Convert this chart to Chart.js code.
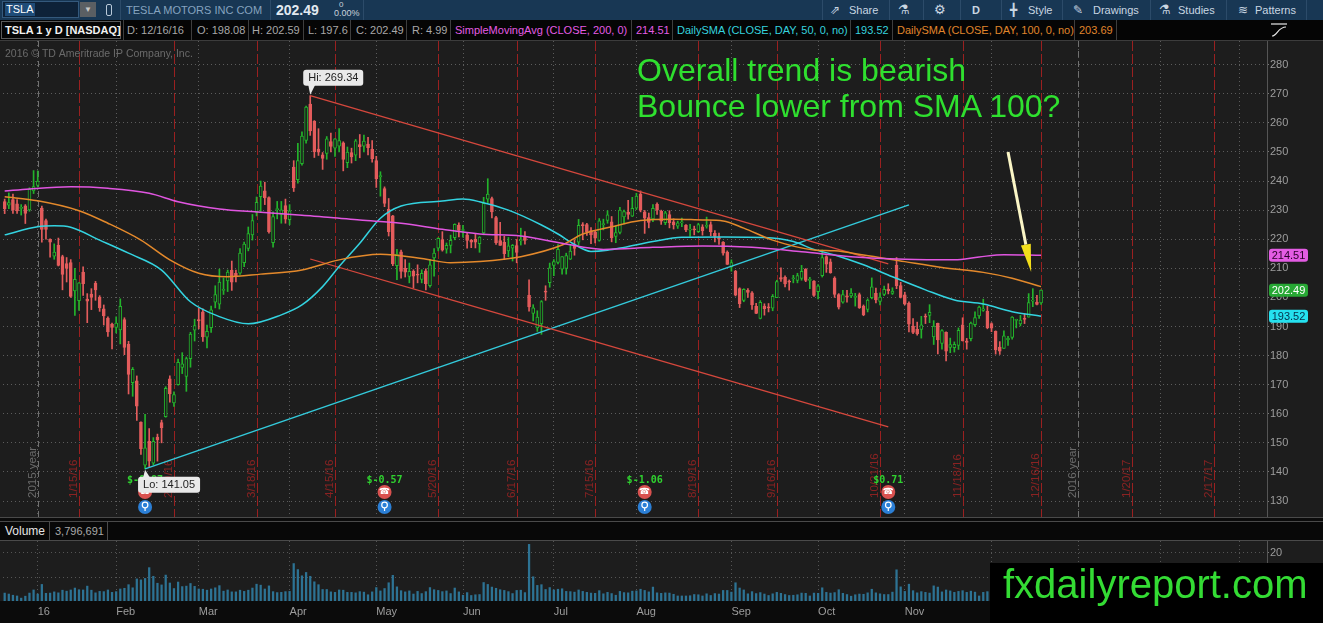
<!DOCTYPE html>
<html>
<head>
<meta charset="utf-8">
<title>TSLA 1 y D</title>
<script src="https://cdn.jsdelivr.net/npm/chart.js@4.4.1/dist/chart.umd.min.js"></script>
<style>
  html, body { margin: 0; padding: 0; }
  body { width: 1323px; height: 623px; overflow: hidden; position: relative; background: #0a0a0a;
         font-family: "Liberation Sans", Arial, sans-serif; }
  .abs { position: absolute; white-space: nowrap; }
  #bar1 { left: 0; top: 0; width: 1323px; height: 20px; background: #183754; }
  #bar2 { left: 0; top: 20px; width: 1323px; height: 20px; background: #050505; border-bottom: 1px solid #3c3c3c; }
  .sep1 { position: absolute; top: 0; width: 1px; height: 20px; background: #2c4b69; }
  .sep2 { position: absolute; top: 0; width: 1px; height: 20px; background: #3e3e3e; }
  .t1 { position: absolute; top: 0; line-height: 20px; font-size: 11px; color: #c9d6e2; white-space: nowrap; }
  .t2 { position: absolute; top: 0; line-height: 20px; font-size: 11px; color: #a8a8a8; white-space: nowrap; }
  canvas { position: absolute; left: 0; }
  #price { top: 41px; background: #1d1d1d; }
  #vol { top: 541px; background: #0b0b0b; }
  .note { position: absolute; left: 637px; font-size: 32px; line-height: 32px; color: #2fe02f; white-space: nowrap; }
</style>
</head>
<body>

<div id="bar1" class="abs">
  <div class="abs" style="left:2px;top:1px;width:77px;height:17px;background:#0e2238;border:1px solid #34597c;box-sizing:border-box;"></div>
  <div class="abs" style="left:5px;top:3px;height:13px;padding:0 1px;background:#1f4c78;color:#fff;font-size:11px;line-height:13px;">TSLA</div>
  <div class="abs" style="left:80px;top:2px;width:16px;height:15px;background:#5b5f63;color:#c8c8c8;font-size:8px;line-height:15px;text-align:center;">&#9660;</div>
  <div class="abs" style="left:106px;top:4px;width:4px;height:10px;border:1px solid #b9c9d8;border-radius:2px;"></div>
  <div class="sep1" style="left:120px"></div>
  <div class="t1" style="left:126px;color:#86a3bf;">TESLA MOTORS INC COM</div>
  <div class="sep1" style="left:270px"></div>
  <div class="t1" style="left:276px;font-size:14px;font-weight:bold;color:#e2e9f0;">202.49</div>
  <div class="abs" style="left:339px;top:1px;font-size:8px;line-height:8px;color:#c9d2db;">0</div>
  <div class="abs" style="left:334px;top:9px;font-size:9px;line-height:9px;color:#c9d2db;">0.00%</div>
  <div class="sep1" style="left:363px"></div>

  <div class="sep1" style="left:822px"></div>
  <div class="t1" style="left:830px;font-size:12px;">&#8663;</div>
  <div class="t1" style="left:849px;">Share</div>
  <div class="sep1" style="left:889px"></div>
  <div class="t1" style="left:898px;font-size:13px;">&#9879;</div>
  <div class="sep1" style="left:923px"></div>
  <div class="t1" style="left:934px;font-size:13px;">&#9881;</div>
  <div class="sep1" style="left:960px"></div>
  <div class="t1" style="left:972px;font-weight:bold;">D</div>
  <div class="sep1" style="left:1001px"></div>
  <div class="t1" style="left:1010px;font-size:12px;">&#9547;</div>
  <div class="t1" style="left:1028px;">Style</div>
  <div class="sep1" style="left:1062px"></div>
  <div class="t1" style="left:1073px;font-size:12px;">&#9998;</div>
  <div class="t1" style="left:1093px;">Drawings</div>
  <div class="sep1" style="left:1150px"></div>
  <div class="t1" style="left:1159px;font-size:13px;">&#9879;</div>
  <div class="t1" style="left:1178px;">Studies</div>
  <div class="sep1" style="left:1226px"></div>
  <div class="t1" style="left:1238px;font-size:12px;">&#8779;</div>
  <div class="t1" style="left:1255px;">Patterns</div>
  <div class="sep1" style="left:1306px"></div>
</div>

<div id="bar2" class="abs">
  <div class="abs" style="left:1px;top:1px;width:120px;height:18px;border:1px solid #5a5a5a;box-sizing:border-box;"></div>
  <div class="t2" style="left:5px;color:#f2f2f2;font-weight:bold;">TSLA 1 y D [NASDAQ]</div>
  <div class="sep2" style="left:123px"></div>
  <div class="t2" style="left:127px;">D: 12/16/16</div>
  <div class="sep2" style="left:191px"></div>
  <div class="t2" style="left:197px;">O: 198.08</div>
  <div class="sep2" style="left:248px"></div>
  <div class="t2" style="left:252px;">H: 202.59</div>
  <div class="sep2" style="left:303px"></div>
  <div class="t2" style="left:308px;">L: 197.6</div>
  <div class="sep2" style="left:350px"></div>
  <div class="t2" style="left:356px;">C: 202.49</div>
  <div class="sep2" style="left:406px"></div>
  <div class="t2" style="left:412px;">R: 4.99</div>
  <div class="sep2" style="left:450px"></div>
  <div class="t2" style="left:455px;color:#e45ce4;">SimpleMovingAvg (CLOSE, 200, 0)</div>
  <div class="sep2" style="left:631px"></div>
  <div class="t2" style="left:636px;color:#e45ce4;">214.51</div>
  <div class="sep2" style="left:672px"></div>
  <div class="t2" style="left:677px;color:#35d3df;">DailySMA (CLOSE, DAY, 50, 0, no)</div>
  <div class="sep2" style="left:850px"></div>
  <div class="t2" style="left:855px;color:#35d3df;">193.52</div>
  <div class="sep2" style="left:892px"></div>
  <div class="t2" style="left:897px;color:#e0862c;">DailySMA (CLOSE, DAY, 100, 0, no)</div>
  <div class="sep2" style="left:1074px"></div>
  <div class="t2" style="left:1079px;color:#e0862c;">203.69</div>
  <div class="sep2" style="left:1116px"></div>
  <svg class="abs" style="left:1269px;top:2px;" width="20" height="16" viewBox="0 0 20 16">
    <path d="M2 2 H18" stroke="#e8e8e8" stroke-width="1.2" fill="none"/>
    <path d="M3 14 C8 14, 9 5, 17 5" stroke="#e8e8e8" stroke-width="1.2" fill="none"/>
  </svg>
</div>

<canvas id="price" width="1323" height="476"></canvas>

<div class="abs" style="left:0;top:517px;width:1323px;height:4px;background:#0b0b0b;border-top:1px solid #4a4a4a;box-sizing:border-box;"></div>
<div class="abs" style="left:0;top:521px;width:1323px;height:20px;background:#080808;border-top:1px solid #4a4a4a;border-bottom:1px solid #4a4a4a;box-sizing:border-box;">
  <div class="abs" style="left:1px;top:0;width:49px;height:18px;border-right:1px solid #4a4a4a;color:#e6e6e6;font-size:12px;line-height:18px;padding-left:4px;box-sizing:border-box;">Volume</div>
  <div class="abs" style="left:55px;top:0;color:#a8a8a8;font-size:11px;line-height:18px;">3,796,691</div>
  <div class="abs" style="left:107px;top:0;width:1px;height:18px;background:#4a4a4a;"></div>
</div>

<canvas id="vol" width="1323" height="82"></canvas>

<div class="note" style="top:54px;">Overall trend is bearish</div>
<div class="note" style="top:90px;">Bounce lower from SMA 100?</div>

<div class="abs" style="left:990px;top:563px;width:333px;height:60px;background:#000;"></div>
<div class="abs" style="left:1003px;top:564px;font-size:40px;line-height:40px;color:#34dc34;">fxdailyreport.com</div>

<script>
// trading days from 12/18/15 to 12/16/16, index 0 = 12/18/15
const opens = [
  232.9, 231.7, 233.6, 232.2, 230.6, 231.5, 230.1, 236.6, 238.5,
  230.7, 226.4, 220.0, 214.2, 217.9, 214.0, 211.6, 212.0, 202.2, 198.9, 208.7, 199.4, 201.1, 204.8, 200.1, 196.1, 192.9, 190.8, 189.7,
  188.8, 192.4, 183.9, 170.7, 171.3, 157.1, 142.3, 150.5, 143.0, 152.0, 157.0, 159.0, 172.0, 163.7, 170.0, 175.9, 172.8, 178.9, 188.7, 192.4,
  195.0, 186.3, 189.6, 198.4, 197.7, 202.4, 205.7, 209.3, 208.3, 208.3, 211.9, 216.8, 221.5, 229.2, 234.6, 236.6, 234.3, 218.8, 230.2, 228.5, 231.6, 226.7,
  244.8, 240.5, 246.0, 254.0, 266.5, 260.5, 251.0, 249.0, 249.5, 253.6, 251.3, 252.0, 253.1, 246.3, 249.8, 248.9, 252.5, 252.0, 252.7, 250.9, 247.0,
  241.5, 237.4, 230.3, 228.0, 210.9, 215.7, 210.0, 207.2, 209.0, 207.8, 206.2, 209.1, 204.0, 213.6, 216.9, 219.9, 216.6, 217.9, 220.5, 224.9, 223.0,
  221.5, 219.6, 220.0, 218.5, 222.2, 233.8, 234.0, 227.4, 219.5, 218.9, 216.0, 216.9, 217.8, 219.5, 220.7, 200.7, 194.5, 189.5, 190.9, 201.9, 205.1, 211.0,
  212.0, 209.7, 210.0, 213.1, 217.8, 219.0, 225.0, 225.0, 223.0, 222.5, 219.6, 225.0, 226.5, 226.0, 221.0, 222.3, 227.7, 229.3, 227.9, 230.7,
  235.5, 229.4, 227.4, 227.0, 232.0, 229.7, 225.7, 228.5, 226.0, 224.5, 225.6, 224.9, 223.1, 223.5, 222.6, 224.3, 224.4, 225.0, 222.0, 220.6, 219.0, 215.6, 210.5,
  209.0, 203.0, 199.0, 202.4, 201.6, 196.9, 192.8, 197.0, 196.5, 196.3, 199.9, 206.8, 206.9, 205.6, 206.4, 205.8, 206.5, 209.7, 205.8, 205.6, 202.0,
  207.5, 214.0, 212.2, 206.6, 201.0, 198.4, 200.5, 200.5, 200.0, 201.0, 197.0, 195.9, 199.9, 201.4, 198.6, 201.0, 202.9, 201.4, 211.0, 204.1, 200.9,
  198.0, 190.1, 189.0, 189.0, 193.6, 193.8, 186.4, 191.1, 184.2, 188.0, 182.8, 182.7, 183.5, 190.6, 185.0, 185.8, 190.6, 193.6, 195.5, 195.2, 191.0,
  188.3, 182.9, 182.5, 185.5, 186.2, 192.1, 190.9, 192.8, 193.2, 198.7, 198.4, 198.08
];
const highs = [
  233.8, 235.9, 235.5, 233.6, 231.9, 231.9, 237.7, 243.6, 243.5,
  231.4, 226.9, 220.1, 218.4, 220.4, 214.5, 213.7, 213.0, 210.0, 205.1, 210.5, 201.3, 203.0, 205.5, 200.6, 197.4, 193.3, 191.2, 193.3,
  199.5, 193.0, 184.9, 175.9, 173.0, 157.2, 159.8, 154.9, 151.8, 153.0, 157.8, 169.3, 173.0, 167.5, 178.8, 181.0, 179.5, 188.0, 192.5, 196.3,
  196.1, 190.5, 197.0, 204.0, 209.7, 206.7, 209.4, 212.5, 209.4, 216.8, 219.0, 224.2, 228.5, 234.5, 240.0, 239.6, 234.6, 229.4, 233.0, 233.0, 233.8, 231.9,
  247.0, 253.0, 256.9, 265.8, 269.34, 260.8, 258.0, 249.8, 255.3, 256.5, 254.6, 258.0, 253.5, 251.7, 251.3, 254.3, 256.0, 255.8, 255.0, 253.9, 248.5,
  243.2, 238.0, 234.0, 228.2, 216.5, 216.3, 213.0, 211.8, 209.5, 211.2, 209.5, 209.8, 213.0, 216.8, 220.5, 222.6, 218.7, 221.4, 225.3, 225.6, 224.8,
  222.4, 219.9, 221.9, 220.9, 234.4, 240.8, 234.5, 227.9, 225.8, 221.0, 220.6, 218.2, 219.9, 223.8, 222.6, 206.0, 197.5, 195.4, 198.9, 204.0, 211.8, 213.0,
  218.2, 214.0, 215.2, 218.1, 219.8, 226.8, 225.7, 225.5, 224.0, 222.9, 227.1, 226.9, 229.8, 227.8, 224.5, 231.0, 230.0, 233.4, 234.4, 235.8,
  236.6, 229.9, 229.0, 231.9, 232.5, 230.0, 229.6, 229.8, 227.0, 226.2, 227.3, 225.0, 225.1, 224.5, 225.5, 225.0, 227.6, 226.0, 223.0, 222.1, 219.2, 216.0, 212.9,
  209.3, 203.3, 203.0, 203.0, 202.0, 198.0, 198.9, 197.8, 197.9, 201.0, 205.9, 210.2, 207.4, 206.0, 207.6, 208.3, 211.0, 209.9, 206.9, 205.8, 204.4,
  216.3, 214.3, 213.2, 207.1, 201.3, 202.4, 202.4, 203.0, 201.4, 201.5, 197.4, 199.5, 206.7, 203.2, 201.6, 203.9, 204.7, 203.3, 213.7, 205.2, 201.8,
  198.5, 192.7, 191.5, 193.5, 194.3, 197.5, 192.0, 191.2, 188.9, 188.2, 186.0, 184.7, 189.5, 193.0, 185.9, 191.5, 195.0, 197.0, 199.4, 197.0, 191.3,
  188.5, 184.8, 188.5, 186.6, 193.4, 192.5, 193.8, 194.4, 201.3, 203.0, 200.7, 202.59
];
const lows = [
  228.8, 230.5, 228.9, 228.9, 228.3, 225.4, 229.6, 235.7, 238.0,
  219.0, 220.0, 213.8, 213.1, 210.8, 202.6, 205.3, 200.0, 193.8, 195.5, 200.7, 191.3, 195.8, 199.0, 195.2, 190.5, 186.6, 182.3, 187.8,
  184.0, 180.3, 166.8, 166.0, 157.7, 146.0, 141.05, 141.7, 142.5, 143.7, 150.0, 158.8, 164.0, 162.5, 169.8, 173.8, 167.7, 176.0, 185.0, 189.2,
  184.9, 182.6, 188.0, 196.4, 196.0, 201.0, 202.0, 202.4, 205.3, 207.9, 210.6, 216.0, 219.7, 228.0, 229.5, 231.9, 222.1, 217.3, 227.0, 225.5, 225.5, 225.0,
  236.4, 239.3, 245.5, 253.0, 255.7, 248.1, 248.8, 244.0, 247.5, 250.0, 248.5, 250.0, 243.5, 244.6, 246.2, 247.0, 248.0, 250.0, 249.0, 246.5, 237.8,
  234.8, 231.2, 221.1, 210.9, 206.1, 206.6, 207.0, 205.0, 203.2, 205.0, 205.0, 202.6, 203.5, 207.3, 216.0, 215.9, 215.2, 215.3, 219.8, 220.8, 220.7,
  216.9, 217.1, 217.0, 215.5, 221.5, 232.6, 227.3, 218.2, 217.9, 213.0, 214.0, 212.5, 211.9, 218.0, 218.3, 195.3, 191.9, 188.3, 187.3, 199.0, 203.5, 207.5,
  211.5, 208.0, 208.0, 213.0, 214.5, 218.0, 219.8, 221.3, 218.5, 218.7, 219.3, 223.2, 225.5, 219.1, 218.8, 221.8, 225.3, 226.9, 227.8, 230.2,
  229.4, 222.0, 223.9, 226.0, 228.5, 225.1, 225.0, 223.9, 223.5, 223.7, 224.3, 222.6, 221.0, 221.5, 222.3, 221.4, 223.8, 221.2, 219.1, 218.2, 214.5, 211.3, 209.0,
  200.5, 196.5, 198.5, 200.0, 195.9, 194.4, 192.6, 193.9, 195.0, 195.4, 199.9, 205.5, 203.6, 202.5, 205.0, 205.0, 205.9, 205.4, 203.0, 200.3, 199.5,
  207.0, 208.6, 208.3, 200.0, 196.0, 198.0, 198.4, 199.9, 197.0, 196.2, 193.7, 195.0, 199.5, 198.1, 197.4, 200.6, 201.2, 201.0, 203.0, 199.8, 197.4,
  188.1, 187.5, 187.0, 186.0, 191.0, 191.3, 183.8, 180.6, 182.2, 178.2, 181.0, 181.2, 182.1, 185.0, 182.2, 185.0, 190.0, 192.8, 195.2, 189.2, 188.2,
  180.5, 180.4, 182.5, 183.5, 185.6, 189.5, 190.2, 191.0, 193.2, 196.8, 197.4, 197.6
];
const closes = [
  230.5, 232.6, 230.0, 229.7, 230.6, 228.9, 237.2, 238.1, 240.0,
  223.4, 223.4, 219.0, 215.6, 211.0, 207.9, 210.0, 200.3, 206.2, 205.0, 204.7, 198.7, 200.0, 202.6, 196.4, 193.6, 188.1, 189.7, 191.2,
  196.9, 182.8, 173.5, 175.3, 162.6, 148.0, 148.3, 143.7, 150.5, 151.0, 155.2, 168.7, 166.8, 166.6, 177.7, 177.2, 179.0, 187.4, 190.3, 191.9,
  186.4, 188.3, 195.7, 201.0, 205.3, 202.6, 208.7, 205.2, 207.5, 215.2, 218.3, 221.9, 226.4, 232.7, 238.3, 234.2, 222.6, 227.8, 230.3, 230.1, 226.9, 229.8,
  237.6, 247.0, 255.5, 265.4, 257.2, 250.1, 249.9, 247.8, 254.5, 251.9, 254.5, 253.9, 247.4, 250.0, 248.3, 253.8, 251.8, 253.7, 251.5, 247.7, 240.8,
  241.8, 232.3, 222.6, 211.5, 214.9, 208.9, 208.7, 209.0, 207.3, 207.6, 208.3, 204.7, 211.2, 215.2, 220.3, 216.2, 217.9, 219.6, 225.1, 223.0, 223.2,
  219.6, 219.0, 219.0, 220.7, 232.3, 235.5, 229.4, 218.8, 217.9, 215.0, 217.7, 217.9, 215.5, 219.7, 219.6, 196.7, 196.4, 193.2, 198.6, 201.8, 210.2, 212.3,
  216.5, 214.0, 214.4, 215.9, 216.8, 224.8, 224.7, 222.5, 221.5, 220.4, 226.3, 225.3, 228.4, 220.5, 222.3, 230.0, 229.5, 228.5, 230.6, 234.8,
  230.0, 227.2, 225.8, 230.6, 230.0, 226.2, 229.1, 225.7, 224.9, 225.6, 225.6, 223.2, 223.5, 223.2, 225.0, 222.9, 224.8, 222.6, 221.0, 220.0, 215.2, 211.3, 212.0,
  200.8, 197.8, 202.8, 201.7, 197.4, 194.5, 198.3, 196.1, 196.4, 200.4, 205.4, 206.3, 204.6, 205.2, 206.4, 207.5, 209.0, 205.8, 206.3, 200.7, 204.0,
  213.7, 211.4, 208.5, 201.0, 196.6, 201.0, 200.1, 201.5, 200.2, 196.5, 194.0, 199.1, 203.6, 199.1, 200.1, 202.8, 202.3, 202.2, 204.0, 200.0, 197.7,
  190.8, 188.0, 187.4, 190.6, 193.2, 194.9, 190.1, 185.4, 188.6, 181.5, 183.8, 183.9, 188.7, 185.0, 184.5, 191.2, 193.1, 196.7, 196.1, 189.6, 189.4,
  181.9, 181.5, 186.8, 185.9, 193.2, 192.3, 192.2, 192.4, 198.2, 198.7, 197.6, 202.49
];
// volume, millions of shares
const volumes = [
  3.3, 2.9, 2.4, 2.1, 1.2, 2.0, 3.3, 4.6, 2.9,
  6.9, 3.2, 3.3, 3.8, 3.4, 4.5, 4.1, 4.6, 5.4, 4.7, 4.6, 6.2, 4.5, 3.4, 4.0, 3.9, 4.6, 3.6, 3.9,
  5.0, 5.3, 6.8, 5.5, 9.2, 8.8, 9.4, 13.9, 10.3, 7.4, 6.7, 10.8, 7.5, 5.2, 7.9, 6.0, 6.2, 7.3, 6.1, 5.0,
  4.9, 4.5, 5.0, 5.5, 6.4, 4.1, 4.6, 3.8, 3.8, 4.5, 4.0, 4.5, 5.4, 7.0, 6.6, 5.0, 6.3, 3.9, 3.5, 3.6, 3.9, 4.0,
  15.6, 13.1, 10.5, 11.9, 10.3, 8.0, 6.8, 4.8, 4.8, 3.8, 3.6, 4.6, 4.5, 3.6, 3.6, 3.4, 3.9, 3.7, 2.6, 3.8, 5.6,
  4.2, 5.2, 7.6, 10.7, 5.9, 4.3, 3.8, 4.2, 2.9, 4.0, 3.1, 3.9, 5.6, 4.7, 4.4, 3.9, 4.2, 3.1, 5.4, 3.8, 2.4,
  3.5, 2.3, 2.6, 2.7, 7.7, 6.9, 5.8, 5.3, 4.7, 4.4, 3.9, 3.1, 4.4, 4.5, 3.5, 23.6, 10.1, 6.5, 6.8, 4.8, 5.6, 4.6,
  4.9, 5.1, 4.0, 3.9, 3.7, 4.6, 4.0, 3.6, 3.3, 3.2, 4.3, 3.0, 3.6, 3.1, 2.4, 4.0, 3.5, 3.4, 4.1, 4.2,
  4.9, 4.4, 3.8, 5.8, 3.4, 3.2, 3.4, 3.3, 2.8, 2.1, 2.1, 2.1, 2.2, 2.7, 2.6, 2.1, 3.0, 2.3, 3.1, 2.9, 4.4, 4.4, 3.7,
  7.6, 5.4, 4.6, 3.0, 3.9, 3.1, 3.5, 2.9, 2.3, 3.0, 3.6, 3.2, 2.7, 2.3, 2.4, 2.6, 3.3, 3.2, 2.1, 3.3, 3.2,
  5.5, 3.6, 3.3, 3.5, 4.7, 3.2, 2.7, 2.0, 2.6, 2.9, 2.8, 3.4, 4.9, 3.4, 3.0, 2.7, 2.7, 3.7, 13.0, 5.9, 4.0,
  7.0, 4.3, 3.4, 3.9, 3.6, 3.3, 6.3, 5.8, 3.8, 4.6, 4.2, 3.6, 4.0, 4.3, 3.6, 4.1, 3.7, 2.1, 3.6, 3.9, 3.4,
  4.6, 3.6, 3.7, 2.9, 3.8, 2.8, 2.4, 2.8, 4.3, 4.6, 3.3, 3.8
];

// moving averages: [day index, value]
const sma200Pts = [[0,236.6],[6,237.3],[16,238.0],[25,237.5],[35,235.8],[42,232.9],[52,230.4],[62,229.3],[72,228.2],[79,227.5],[86,226.6],[96,225.5],[106,223.4],[115,221.8],[125,221.1],[135,218.6],[145,216.5],[157,217.2],[169,217.7],[181,217.2],[193,215.7],[205,214.0],[218,213.1],[230,212.9],[236,213.9],[242,214.7],[251,214.5]];
const sma50Pts = [[0,221.5],[8,224.3],[12,224.6],[16,224.1],[23,219.7],[30,215.2],[38,209.4],[45,198.5],[52,193.4],[59,190.9],[67,194.0],[72,197.4],[77,203.7],[81,210.6],[86,218.6],[91,227.2],[96,231.4],[106,233.1],[111,233.8],[115,232.9],[122,230.0],[130,224.9],[134,221.8],[138,218.2],[142,215.8],[146,216.2],[150,217.2],[157,219.2],[164,220.7],[174,220.8],[184,220.6],[191,219.2],[196,216.5],[201,214.6],[208,211.2],[215,207.1],[223,202.6],[230,199.1],[237,197.7],[244,195.1],[251,193.5]];
const sma100Pts = [[0,234.6],[8,233.2],[18,229.8],[25,225.5],[33,219.7],[40,212.9],[47,208.3],[54,207.1],[62,208.0],[72,209.4],[81,212.9],[91,214.8],[101,213.4],[108,211.9],[115,212.3],[125,214.0],[135,218.0],[140,221.8],[147,224.3],[154,226.4],[162,226.9],[169,226.6],[174,226.3],[179,223.8],[186,219.7],[196,216.3],[201,216.0],[208,214.6],[218,212.3],[227,210.3],[237,208.6],[244,206.6],[251,203.7]];

// drawings: [day index, price]
const upperChannel = [[74, 269.34], [214, 211.5]];
const lowerChannel = [[74, 213.2], [214, 155.5]];
const supportLine = [[34, 141.05], [219, 231.8]];
const arrowFrom = [243, 250.0];
const arrowTo = [248.6, 208.7];
const hiPoint = [74, 269.34];
const loPoint = [34, 141.05];

// time axis
const monthTickIdx = [8, 27, 47, 69, 90, 111, 133, 153, 176, 197, 218, 239, 260, 280, 299];
const monthTickLabels = ['16', 'Feb', 'Mar', 'Apr', 'May', 'Jun', 'Jul', 'Aug', 'Sep', 'Oct', 'Nov', 'Dec', '17', 'Feb', 'Mar'];
const expiryIdx = [18, 41, 61, 80, 105, 124, 143, 168, 187, 212, 232, 251, 273, 293];
const expiryLabels = ['1/15/16', '2/19/16', '3/18/16', '4/15/16', '5/20/16', '6/17/16', '7/15/16', '8/19/16', '9/16/16', '10/21/16', '11/18/16', '12/16/16', '1/20/17', '2/17/17'];
const yearIdx = [8, 260];
const yearLabels = ['2015 year', '2016 year'];
const earnIdx = [34, 92, 155, 214];
const earnLabels = ['$-0.87', '$-0.57', '$-1.06', '$0.71'];
const priceTicks = [130, 140, 150, 160, 170, 180, 190, 200, 210, 220, 230, 240, 250, 260, 270, 280];
const lastBadges = [[214.51, '#e35ce3', '#2a002a'], [202.49, '#27a834', '#ffffff'], [193.52, '#25e1ef', '#06304a']];

const FONT = '"Liberation Sans", Arial, sans-serif';
const UP = '#23b42b', DOWN = '#e35c5c', BG = '#1d1d1d';
const X_MIN = -0.407, X_MAX = 305.72;

const idx = closes.map((_, i) => i);
const isUp = idx.map(i => closes[i] >= opens[i]);
const pts = arr => arr.map(([i, v]) => ({x: i, y: v}));

function vline(ctx, px, top, bottom) {
  const p = Math.round(px) + 0.5;
  ctx.beginPath(); ctx.moveTo(p, top); ctx.lineTo(p, bottom); ctx.stroke();
}
function rotText(ctx, text, px, py, color) {
  ctx.save();
  ctx.translate(px, py);
  ctx.rotate(-Math.PI / 2);
  ctx.fillStyle = color;
  ctx.fillText(text, 0, 0);
  ctx.restore();
}
function rrect(ctx, x, y, w, h, r) {
  ctx.beginPath();
  ctx.moveTo(x + r, y); ctx.lineTo(x + w - r, y); ctx.quadraticCurveTo(x + w, y, x + w, y + r);
  ctx.lineTo(x + w, y + h - r); ctx.quadraticCurveTo(x + w, y + h, x + w - r, y + h);
  ctx.lineTo(x + r, y + h); ctx.quadraticCurveTo(x, y + h, x, y + h - r);
  ctx.lineTo(x, y + r); ctx.quadraticCurveTo(x, y, x + r, y);
  ctx.closePath();
}

const priceDecor = {
  id: 'priceDecor',
  beforeDatasetsDraw(chart) {
    const {ctx, chartArea: a, scales: {x}} = chart;
    ctx.save();
    ctx.beginPath(); ctx.rect(a.left, a.top, a.right - a.left, a.bottom - a.top); ctx.clip();
    ctx.lineWidth = 1;
    ctx.strokeStyle = '#707070'; ctx.setLineDash([6, 4]);
    yearIdx.forEach(i => vline(ctx, x.getPixelForValue(i), a.top, a.bottom));
    ctx.strokeStyle = '#9a2020'; ctx.setLineDash([10, 3]);
    expiryIdx.forEach(i => vline(ctx, x.getPixelForValue(i), a.top, a.bottom));
    ctx.setLineDash([]);
    ctx.font = '11.5px ' + FONT;
    ctx.textAlign = 'left'; ctx.textBaseline = 'alphabetic';
    expiryIdx.forEach((i, k) => rotText(ctx, expiryLabels[k], x.getPixelForValue(i) - 2, a.bottom - 19, '#8a2222'));
    yearIdx.forEach((i, k) => rotText(ctx, yearLabels[k], x.getPixelForValue(i) - 2, a.bottom - 19, '#6a6a6a'));
    ctx.fillStyle = '#6a6a6a';
    ctx.font = '10.5px ' + FONT;
    ctx.fillText('2016 \u00a9 TD Ameritrade IP Company, Inc.', a.left + 2, a.top + 16);
    ctx.restore();
  },
  afterDatasetsDraw(chart) {
    const {ctx, chartArea: a, scales: {x, y}} = chart;
    ctx.save();
    // earnings markers
    earnIdx.forEach((i, k) => {
      const px = x.getPixelForValue(i);
      ctx.font = 'bold 10px "DejaVu Sans Mono", monospace';
      ctx.textAlign = 'center'; ctx.textBaseline = 'alphabetic';
      ctx.fillStyle = '#2fd12f';
      ctx.fillText(earnLabels[k], px, a.bottom - 34);
      ctx.fillStyle = '#d9514f';
      ctx.beginPath(); ctx.arc(px, a.bottom - 25, 7, 0, Math.PI * 2); ctx.fill();
      ctx.fillStyle = '#fff'; ctx.font = '9px "DejaVu Sans", sans-serif'; ctx.textBaseline = 'middle';
      ctx.fillText('\u260E', px, a.bottom - 25);
      ctx.fillStyle = '#2b7fd6';
      ctx.beginPath(); ctx.arc(px, a.bottom - 10, 7, 0, Math.PI * 2); ctx.fill();
      ctx.strokeStyle = '#fff'; ctx.lineWidth = 1.2;
      ctx.beginPath(); ctx.arc(px, a.bottom - 12, 2.8, 0, Math.PI * 2); ctx.stroke();
      ctx.beginPath(); ctx.moveTo(px, a.bottom - 9); ctx.lineTo(px, a.bottom - 6); ctx.stroke();
    });
    // Hi / Lo bubbles
    const bubble = (pt, text, below) => {
      const ax = x.getPixelForValue(pt[0]), ay = y.getPixelForValue(pt[1]);
      const bx = ax - 7, by = below ? ay + 8 : ay - 26, w = below ? 62 : 60, h = 16;
      ctx.fillStyle = '#e9e9e9';
      rrect(ctx, bx, by, w, h, 3); ctx.fill();
      ctx.beginPath();
      if (below) { ctx.moveTo(ax - 2, by + 1); ctx.lineTo(ax + 5, by + 1); ctx.lineTo(ax, ay + 1); }
      else { ctx.moveTo(ax - 2, by + h - 1); ctx.lineTo(ax + 5, by + h - 1); ctx.lineTo(ax, ay - 1); }
      ctx.fill();
      ctx.fillStyle = '#222'; ctx.font = '11px ' + FONT; ctx.textAlign = 'left'; ctx.textBaseline = 'middle';
      ctx.fillText(text, bx + 5, by + h / 2 + 0.5);
    };
    bubble(hiPoint, 'Hi: 269.34', false);
    bubble(loPoint, 'Lo: 141.05', true);
    // arrow
    const x0 = x.getPixelForValue(arrowFrom[0]), y0 = y.getPixelForValue(arrowFrom[1]);
    const x1 = x.getPixelForValue(arrowTo[0]), y1 = y.getPixelForValue(arrowTo[1]);
    const ang = Math.atan2(y1 - y0, x1 - x0), hl = 28, hw = 5;
    const bx = x1 - hl * Math.cos(ang), by = y1 - hl * Math.sin(ang);
    ctx.strokeStyle = '#fbf6c6'; ctx.lineWidth = 3; ctx.lineCap = 'butt';
    ctx.beginPath(); ctx.moveTo(x0, y0); ctx.lineTo(bx, by); ctx.stroke();
    ctx.fillStyle = '#f2de1a';
    ctx.beginPath();
    ctx.moveTo(x1, y1);
    ctx.lineTo(bx + hw * Math.sin(ang), by - hw * Math.cos(ang));
    ctx.lineTo(bx - hw * Math.sin(ang), by + hw * Math.cos(ang));
    ctx.closePath(); ctx.fill();
    ctx.restore();
  },
  afterDraw(chart) {
    const {ctx, chartArea: a, scales: {y}} = chart;
    ctx.save();
    ctx.font = '11px ' + FONT; ctx.textAlign = 'center'; ctx.textBaseline = 'middle';
    lastBadges.forEach(([v, fill, tc]) => {
      const py = y.getPixelForValue(v);
      ctx.fillStyle = fill;
      rrect(ctx, a.right + 2, py - 6.5, 39, 13, 3); ctx.fill();
      ctx.fillStyle = tc;
      ctx.fillText(v.toFixed(2), a.right + 21.5, py + 0.5);
    });
    ctx.restore();
  }
};

const lineDs = (data, color, width) => ({
  type: 'line', data, borderColor: color, borderWidth: width, pointRadius: 0,
  cubicInterpolationMode: 'monotone', order: 0
});

new Chart(document.getElementById('price'), {
  type: 'bar',
  data: {
    datasets: [
      lineDs(pts(sma200Pts), '#e055e0', 1.5),
      lineDs(pts(sma100Pts), '#e4892b', 1.5),
      lineDs(pts(sma50Pts), '#33d3e0', 1.5),
      lineDs(pts(upperChannel), '#d5473c', 1.3),
      lineDs(pts(lowerChannel), '#d5473c', 1.3),
      lineDs(pts(supportLine), '#33cadb', 1.5),
      {
        data: idx.map(i => ({x: i, y: [lows[i], highs[i]]})),
        backgroundColor: idx.map(i => isUp[i] ? UP : DOWN),
        barThickness: 1, grouped: false, order: 2
      },
      {
        data: idx.map(i => ({x: i, y: [opens[i], closes[i]]})),
        backgroundColor: idx.map(i => isUp[i] ? BG : DOWN),
        borderColor: idx.map(i => isUp[i] ? UP : DOWN),
        borderWidth: 1, borderSkipped: false, barThickness: 3, minBarLength: 1,
        grouped: false, order: 1
      }
    ]
  },
  options: {
    animation: false, responsive: false, events: [],
    layout: {padding: {left: 3, right: 0, top: 0, bottom: 0}},
    plugins: {legend: {display: false}, tooltip: {enabled: false}},
    scales: {
      x: {
        type: 'linear', min: X_MIN, max: X_MAX, offset: false,
        grid: {color: '#5c5c5c', offset: false, drawTicks: false},
        border: {display: false, dash: [1, 3]},
        ticks: {display: false},
        afterBuildTicks: s => { s.ticks = monthTickIdx.map(v => ({value: v})); },
        afterFit: s => { s.height = 0; s.paddingLeft = 0; s.paddingRight = 0; }
      },
      y: {
        position: 'right', min: 124.5, max: 288.148,
        grid: {color: '#5c5c5c', drawTicks: true, tickLength: 2, tickColor: '#777'},
        border: {display: true, color: '#555', dash: [1, 3]},
        ticks: {color: '#9c9c9c', font: {size: 11, family: FONT}, padding: 1},
        afterBuildTicks: s => { s.ticks = priceTicks.map(v => ({value: v})); },
        afterFit: s => { s.width = 56; s.paddingTop = 0; s.paddingBottom = 0; }
      }
    }
  },
  plugins: [priceDecor]
});

const volBg = {
  id: 'volBg',
  beforeDraw(chart) {
    const {ctx, chartArea: a} = chart;
    ctx.save();
    ctx.fillStyle = BG;
    ctx.fillRect(0, a.top, chart.width, a.bottom - a.top);
    ctx.restore();
  }
};

new Chart(document.getElementById('vol'), {
  type: 'bar',
  data: {
    datasets: [{
      data: idx.map(i => ({x: i, y: volumes[i]})),
      backgroundColor: '#2d7394', barThickness: 1.6, grouped: false
    }]
  },
  options: {
    animation: false, responsive: false, events: [],
    layout: {padding: {left: 3, right: 0, top: 0, bottom: 0}},
    plugins: {legend: {display: false}, tooltip: {enabled: false}},
    scales: {
      x: {
        type: 'linear', min: X_MIN, max: X_MAX, offset: false,
        grid: {color: '#555', offset: false, drawTicks: false},
        border: {display: false, dash: [1, 3]},
        ticks: {color: '#9c9c9c', font: {size: 11, family: FONT}, align: 'start', padding: 4,
                maxRotation: 0, autoSkip: false, callback: (v, k) => monthTickLabels[k]},
        afterBuildTicks: s => { s.ticks = monthTickIdx.map(v => ({value: v})); },
        afterFit: s => { s.height = 22; s.paddingLeft = 0; s.paddingRight = 0; }
      },
      y: {
        position: 'right', min: 0, max: 25,
        grid: {color: '#555', drawTicks: true, tickLength: 2, tickColor: '#777'},
        border: {display: true, color: '#555', dash: [1, 3]},
        ticks: {color: '#9c9c9c', font: {size: 11, family: FONT}, padding: 1,
                callback: v => (v === 20 ? '20' : '')},
        afterBuildTicks: s => { s.ticks = [{value: 10}, {value: 20}]; },
        afterFit: s => { s.width = 56; s.paddingTop = 0; s.paddingBottom = 0; }
      }
    }
  },
  plugins: [volBg]
});
</script>
</body>
</html>
